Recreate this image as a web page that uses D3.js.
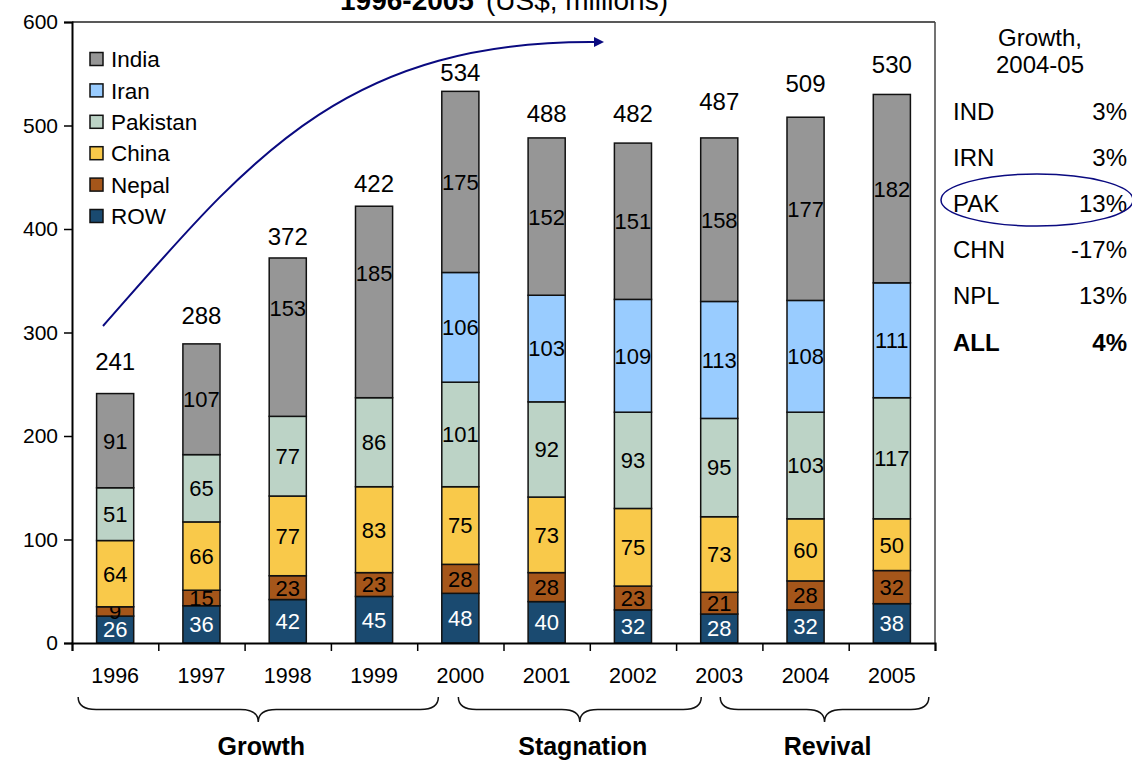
<!DOCTYPE html>
<html>
<head>
<meta charset="utf-8">
<script src="https://cdn.jsdelivr.net/npm/d3@7"></script>
<style>
  body { margin: 0; background: #fff; }
  svg { font-family: "Liberation Sans", Arial, sans-serif; }
</style>
</head>
<body>
<svg id="chart" width="1132" height="760"></svg>
<script>
// Data
var years = ['1996', '1997', '1998', '1999', '2000', '2001', '2002', '2003', '2004', '2005'];
var row      = [26, 36, 42, 45, 48, 40, 32, 28, 32, 38];
var nepal    = [9, 15, 23, 23, 28, 28, 23, 21, 28, 32];
var china    = [64, 66, 77, 83, 75, 73, 75, 73, 60, 50];
var pakistan = [51, 65, 77, 86, 101, 92, 93, 95, 103, 117];
var iran     = [0, 0, 0, 0, 106, 103, 109, 113, 108, 111];
var india    = [91, 107, 153, 185, 175, 152, 151, 158, 177, 182];
var totals   = [241, 288, 372, 422, 534, 488, 482, 487, 509, 530];

var growthCodes = ['IND', 'IRN', 'PAK', 'CHN', 'NPL', 'ALL'];
var growthRates = ['3%', '3%', '13%', '-17%', '13%', '4%'];

var periodNames = ['Growth', 'Stagnation', 'Revival'];
var periodStart = ['1996', '2000', '2003'];
var periodEnd   = ['2000', '2003', '2005'];

var keys = ['ROW', 'Nepal', 'China', 'Pakistan', 'Iran', 'India'];
var legendOrder = ['India', 'Iran', 'Pakistan', 'China', 'Nepal', 'ROW'];
var colors = {
    India: '#969696',
    Iran: '#99ccff',
    Pakistan: '#bcd3c6',
    China: '#f9c94a',
    Nepal: '#a5561a',
    ROW: '#1a4a70'
};

// a few labels were nudged by hand in the original
var totalLift = [32, 30, 22, 23, 18, 25, 31, 38, 33, 30];
var indiaNudge = {'1998': -29, '1999': -29};

var series = {ROW: row, Nepal: nepal, China: china, Pakistan: pakistan, Iran: iran, India: india};
var table = years.map(function (y, i) {
    var d = {year: y};
    keys.forEach(function (k) { d[k] = series[k][i]; });
    return d;
});

var svg = d3.select('#chart');
var plotL = 72, plotR = 935, plotT = 22, plotB = 643;

var x = d3.scaleBand().domain(years).range([plotL, plotR]).paddingInner(0.57).paddingOuter(0.285);
var y = d3.scaleLinear().domain([0, 600]).range([plotB, plotT]);
var xc = function (yr) { return x(yr) + x.bandwidth() / 2; };

// title (mostly cut off at the top)
var title = svg.append('text')
    .attr('x', 504)
    .attr('y', 10)
    .attr('text-anchor', 'middle')
    .style('font-size', '28px');
title.append('tspan').style('font-weight', 'bold').text('1996-2005');
title.append('tspan').attr('dx', 12).text('(US$, millions)');

// frame top / right
svg.append('line').attr('x1', plotL).attr('x2', plotR).attr('y1', plotT).attr('y2', plotT)
    .attr('stroke', '#222').attr('stroke-width', 1.5);
svg.append('line').attr('x1', plotR).attr('x2', plotR).attr('y1', plotT).attr('y2', plotB)
    .attr('stroke', '#444').attr('stroke-width', 1.5);

// stacked bars
var stack = d3.stack().keys(keys)(table);

var layers = svg.selectAll('.layer')
    .data(stack)
    .enter().append('g')
    .attr('class', 'layer')
    .attr('fill', function (d) { return colors[d.key]; });

layers.selectAll('rect')
    .data(function (d) { return d.filter(function (p) { return p[1] > p[0]; }); })
    .enter().append('rect')
    .attr('x', function (d) { return x(d.data.year); })
    .attr('y', function (d) { return y(d[1]); })
    .attr('width', x.bandwidth())
    .attr('height', function (d) { return y(d[0]) - y(d[1]); })
    .attr('stroke', '#111')
    .attr('stroke-width', 1.5);

layers.each(function (s) {
    d3.select(this).selectAll('text')
        .data(s.filter(function (p) { return p[1] > p[0]; }))
        .enter().append('text')
        .attr('x', function (d) { return xc(d.data.year); })
        .attr('y', function (d) {
            var cy = y((d[0] + d[1]) / 2);
            if (s.key === 'India' && indiaNudge[d.data.year]) cy += indiaNudge[d.data.year];
            return cy;
        })
        .attr('dy', '0.36em')
        .attr('text-anchor', 'middle')
        .attr('fill', s.key === 'ROW' ? '#fff' : '#000')
        .style('font-size', '22px')
        .text(function (d) { return d.data[s.key]; });
});

// totals above bars
svg.selectAll('.total')
    .data(totals)
    .enter().append('text')
    .attr('class', 'total')
    .attr('x', function (d, i) { return xc(years[i]); })
    .attr('y', function (d, i) { return y(d) - totalLift[i]; })
    .attr('dy', '0.36em')
    .attr('text-anchor', 'middle')
    .style('font-size', '24px')
    .text(function (d) { return d; });

// y axis
var yAxis = svg.append('g')
    .attr('transform', 'translate(' + plotL + ',0)')
    .call(d3.axisLeft(y).tickValues(d3.range(0, 601, 100)).tickSize(8).tickPadding(6));
yAxis.selectAll('text').style('font-size', '21px').attr('fill', '#000').style('font-family', '"Liberation Sans", Arial, sans-serif');
yAxis.selectAll('line').attr('stroke', '#000').attr('stroke-width', 1.5);
yAxis.select('.domain').attr('stroke', '#000').attr('stroke-width', 2);

// x axis: ticks on the category boundaries, labels in the middle
var xb = d3.scaleLinear().domain([0, years.length]).range([plotL, plotR]);
var xAxis = svg.append('g')
    .attr('transform', 'translate(0,' + plotB + ')')
    .call(d3.axisBottom(xb).ticks(years.length).tickSize(8).tickFormat(''));
xAxis.selectAll('line').attr('stroke', '#000').attr('stroke-width', 1.5);
xAxis.select('.domain').attr('stroke', '#000').attr('stroke-width', 2);

svg.selectAll('.year')
    .data(years)
    .enter().append('text')
    .attr('class', 'year')
    .attr('x', function (d) { return xc(d); })
    .attr('y', 683)
    .attr('text-anchor', 'middle')
    .style('font-size', '21.5px')
    .text(function (d) { return d; });

// legend
var legend = svg.selectAll('.legend')
    .data(legendOrder)
    .enter().append('g')
    .attr('class', 'legend')
    .attr('transform', function (d, i) { return 'translate(90,' + (59 + i * 31.4) + ')'; });
legend.append('rect')
    .attr('x', 0).attr('y', -6.5)
    .attr('width', 13).attr('height', 13)
    .attr('fill', function (d) { return colors[d]; })
    .attr('stroke', '#111').attr('stroke-width', 1.5);
legend.append('text')
    .attr('x', 21)
    .attr('dy', '0.36em')
    .style('font-size', '22.5px')
    .text(function (d) { return d; });

// growth arrow
var defs = svg.append('defs');
defs.append('marker')
    .attr('id', 'head')
    .attr('viewBox', '0 0 10 10')
    .attr('refX', 2).attr('refY', 5)
    .attr('markerWidth', 10).attr('markerHeight', 10)
    .attr('markerUnits', 'userSpaceOnUse')
    .attr('orient', 'auto')
    .append('path').attr('d', 'M0,0 L10,5 L0,10 z').attr('fill', '#0a0a80');
svg.append('path')
    .attr('d', 'M103,326 C245,165 340,40 596,42')
    .attr('fill', 'none')
    .attr('stroke', '#0a0a80')
    .attr('stroke-width', 2)
    .attr('marker-end', 'url(#head)');

// growth table on the right
svg.append('text').attr('x', 1040).attr('y', 37).attr('dy', '0.36em')
    .attr('text-anchor', 'middle').style('font-size', '24px').text('Growth,');
svg.append('text').attr('x', 1040).attr('y', 64).attr('dy', '0.36em')
    .attr('text-anchor', 'middle').style('font-size', '24px').text('2004-05');

var rows = svg.selectAll('.grow')
    .data(growthCodes)
    .enter().append('g')
    .attr('class', 'grow')
    .attr('transform', function (d, i) { return 'translate(0,' + (111 + i * 46.2) + ')'; })
    .style('font-weight', function (d) { return d === 'ALL' ? 'bold' : 'normal'; });
rows.append('text').attr('x', 953).attr('dy', '0.36em').style('font-size', '24px')
    .text(function (d) { return d; });
rows.append('text').attr('x', 1127).attr('dy', '0.36em').attr('text-anchor', 'end').style('font-size', '24px')
    .text(function (d, i) { return growthRates[i]; });

svg.append('ellipse')
    .attr('cx', 1037).attr('cy', 200)
    .attr('rx', 96).attr('ry', 26)
    .attr('fill', 'none').attr('stroke', '#0a0a80').attr('stroke-width', 1.5);

// period braces
function brace(x0, x1, y0, y1) {
    var tip = (x0 + x1) / 2, mid = (y0 + y1) / 2, c = 18;
    return 'M' + x0 + ',' + y0 +
        ' Q' + x0 + ',' + mid + ' ' + (x0 + c) + ',' + mid +
        ' L' + (tip - c) + ',' + mid +
        ' Q' + tip + ',' + mid + ' ' + tip + ',' + y1 +
        ' Q' + tip + ',' + mid + ' ' + (tip + c) + ',' + mid +
        ' L' + (x1 - c) + ',' + mid +
        ' Q' + x1 + ',' + mid + ' ' + x1 + ',' + y0;
}
var braceInset = [[-37, -22], [-2, -18], [1, 37]];

var periods = svg.selectAll('.period')
    .data(periodNames)
    .enter().append('g')
    .attr('class', 'period');
periods.append('path')
    .attr('d', function (d, i) {
        return brace(xc(periodStart[i]) + braceInset[i][0], xc(periodEnd[i]) + braceInset[i][1], 697, 722);
    })
    .attr('fill', 'none')
    .attr('stroke', '#111')
    .attr('stroke-width', 1.5);
periods.append('text')
    .attr('x', function (d, i) {
        return (xc(periodStart[i]) + braceInset[i][0] + xc(periodEnd[i]) + braceInset[i][1]) / 2 + 3;
    })
    .attr('y', 746)
    .attr('dy', '0.36em')
    .attr('text-anchor', 'middle')
    .style('font-size', '25px')
    .style('font-weight', 'bold')
    .text(function (d) { return d; });
</script>
</body>
</html>
